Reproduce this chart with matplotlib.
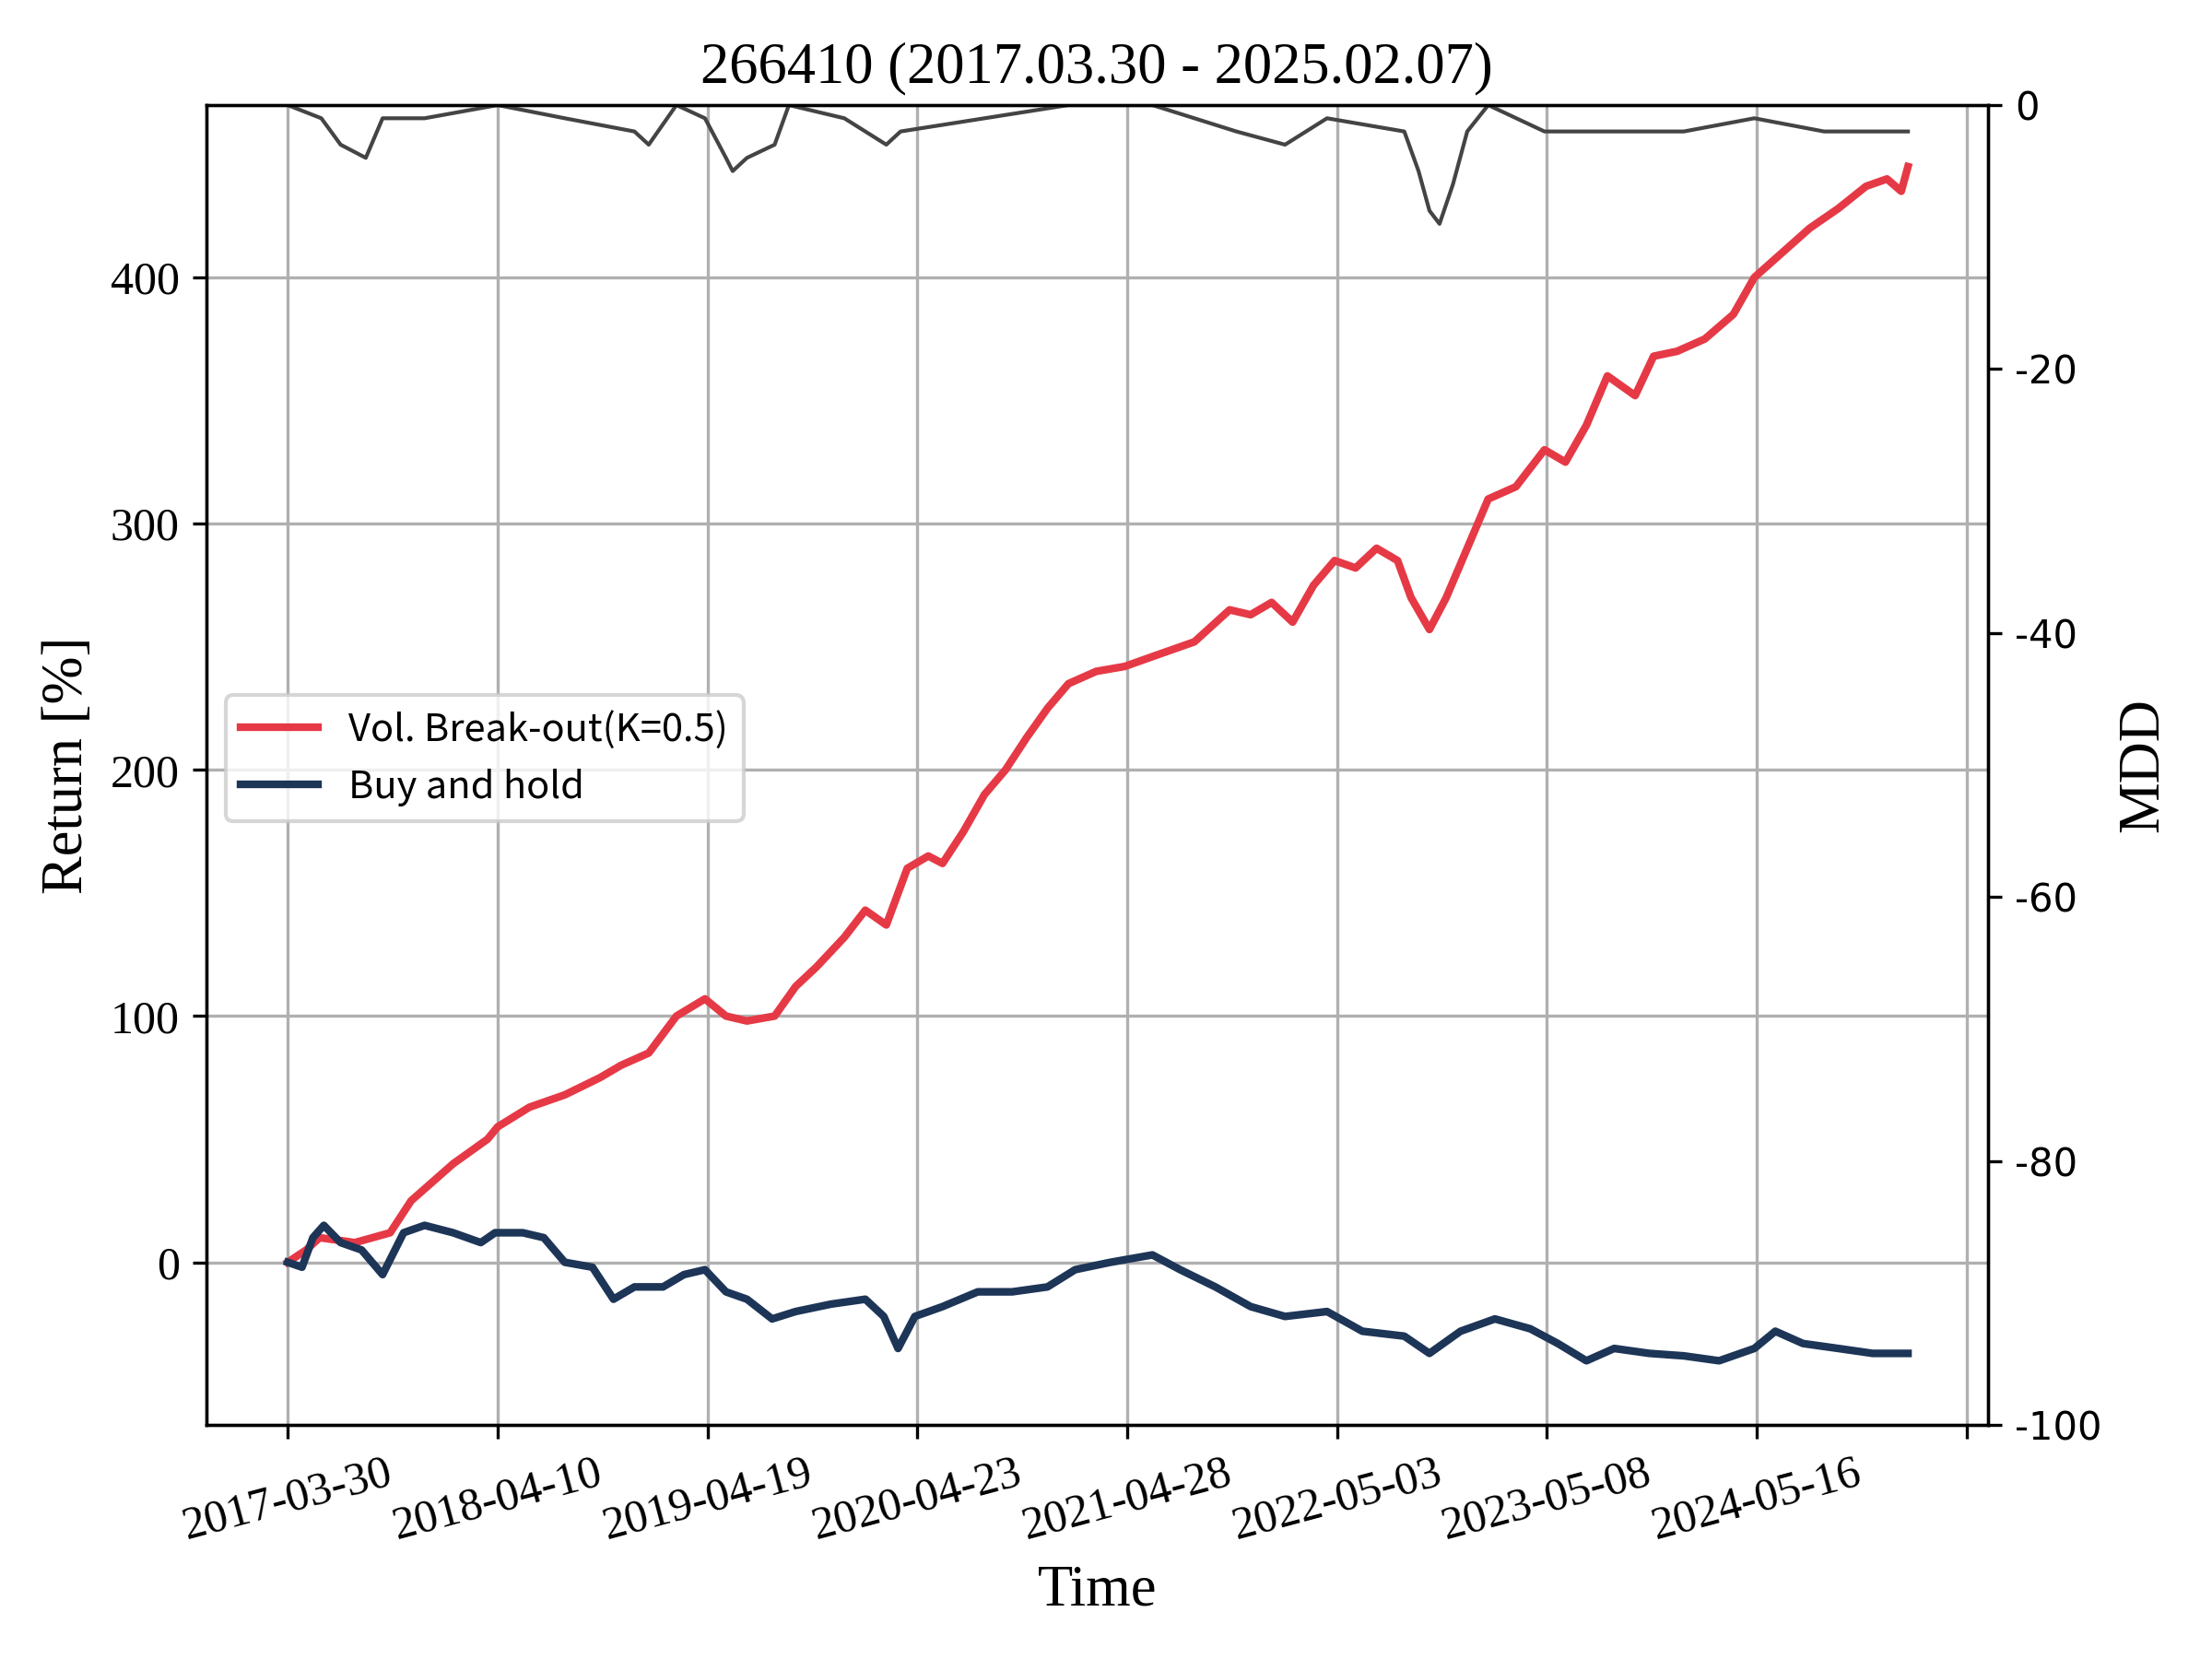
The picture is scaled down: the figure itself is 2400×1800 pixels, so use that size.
import matplotlib.pyplot as plt

plt.rcParams['axes.unicode_minus'] = False

# trading-day index and values
red_x = [0, 22, 38, 80, 122, 147, 197, 238, 250, 288, 330, 372, 397, 430, 463, 497, 522, 547, 580, 605, 630, 663, 688, 713, 738, 763, 780, 805, 830, 855, 880, 905, 930, 963, 997, 1030, 1080, 1122, 1147, 1172, 1197, 1222, 1247, 1272, 1297, 1322, 1338, 1360, 1380, 1405, 1430, 1463, 1497, 1522, 1547, 1572, 1605, 1627, 1655, 1688, 1722, 1747, 1780, 1813, 1847, 1880, 1905, 1922, 1930]
red_y = [0, 5, 10, 8, 12, 25, 40, 50, 55, 63, 68, 75, 80, 85, 100, 107, 100, 98, 100, 112, 120, 132, 143, 137, 160, 165, 162, 175, 190, 200, 213, 225, 235, 240, 242, 246, 252, 265, 263, 268, 260, 275, 285, 282, 290, 285, 270, 257, 270, 290, 310, 315, 330, 325, 340, 360, 352, 368, 370, 375, 385, 400, 410, 420, 428, 437, 440, 435, 445]

blue_x = [0, 17, 30, 43, 63, 88, 113, 138, 163, 197, 230, 247, 280, 305, 330, 363, 388, 413, 447, 472, 497, 522, 547, 577, 605, 647, 688, 710, 727, 747, 780, 822, 863, 905, 938, 980, 1030, 1063, 1105, 1147, 1188, 1238, 1280, 1330, 1360, 1397, 1438, 1480, 1513, 1547, 1580, 1622, 1663, 1705, 1747, 1772, 1805, 1847, 1888, 1930]
blue_y = [0, -2, 10, 15, 8, 5, -5, 12, 15, 12, 8, 12, 12, 10, 0, -2, -15, -10, -10, -5, -3, -12, -15, -23, -20, -17, -15, -22, -35, -22, -18, -12, -12, -10, -3, 0, 3, -3, -10, -18, -22, -20, -28, -30, -37, -28, -23, -27, -33, -40, -35, -37, -38, -40, -35, -28, -33, -35, -37, -37]

mdd_x = [0, 40, 63, 93, 113, 163, 250, 330, 413, 430, 463, 497, 522, 530, 547, 580, 597, 663, 713, 730, 830, 930, 1030, 1130, 1188, 1238, 1330, 1347, 1360, 1372, 1388, 1405, 1430, 1497, 1580, 1663, 1747, 1830, 1897, 1930]
mdd_y = [0, -1, -3, -4, -1, -1, 0, -1, -2, -3, 0, -1, -4, -5, -4, -3, 0, -1, -3, -2, -1, 0, 0, -2, -3, -1, -2, -5, -8, -9, -6, -2, 0, -2, -2, -2, -1, -2, -2, -2]

tick_pos = [0, 250, 500, 750, 1000, 1250, 1500, 1750, 2000]
tick_lab = ['2017-03-30', '2018-04-10', '2019-04-19', '2020-04-23', '2021-04-28',
            '2022-05-03', '2023-05-08', '2024-05-16', '']

serif = 'Liberation Serif'
fig, ax = plt.subplots(figsize=(8, 6), dpi=300)
ax.plot(red_x, red_y, color='#e63946', lw=2, label='Vol. Break-out(K=0.5)')
ax.plot(blue_x, blue_y, color='#1d3557', lw=2, label='Buy and hold')
ax.set_xlim(-97, 2025)
ax.set_ylim(-66, 470)
ax.set_yticks([0, 100, 200, 300, 400])
ax.set_xticks(tick_pos)
ax.set_xticklabels(tick_lab, rotation=15, fontfamily=serif, fontsize=12)
for t in ax.get_yticklabels():
    t.set_fontfamily(serif)
    t.set_fontsize(12)
ax.grid(True, color='#b0b0b0')
ax.set_xlabel('Time', fontfamily=serif, fontsize=15)
ax.set_ylabel('Return [%]', fontfamily=serif, fontsize=15)
ax.set_title('266410 (2017.03.30 - 2025.02.07)', fontfamily=serif, fontsize=15)
ax.legend(loc='center left', bbox_to_anchor=(0.0, 0.505),
          prop={'family': ['Noto Sans CJK KR', 'DejaVu Sans'], 'size': 10})

ax2 = ax.twinx()
ax2.plot(mdd_x, mdd_y, color='#444444', lw=1)
ax2.set_ylim(-100, 0)
ax2.set_ylabel('MDD', fontfamily=serif, fontsize=15)
ax2.tick_params(labelsize=10)

fig.tight_layout()
fig.savefig('out.png')
